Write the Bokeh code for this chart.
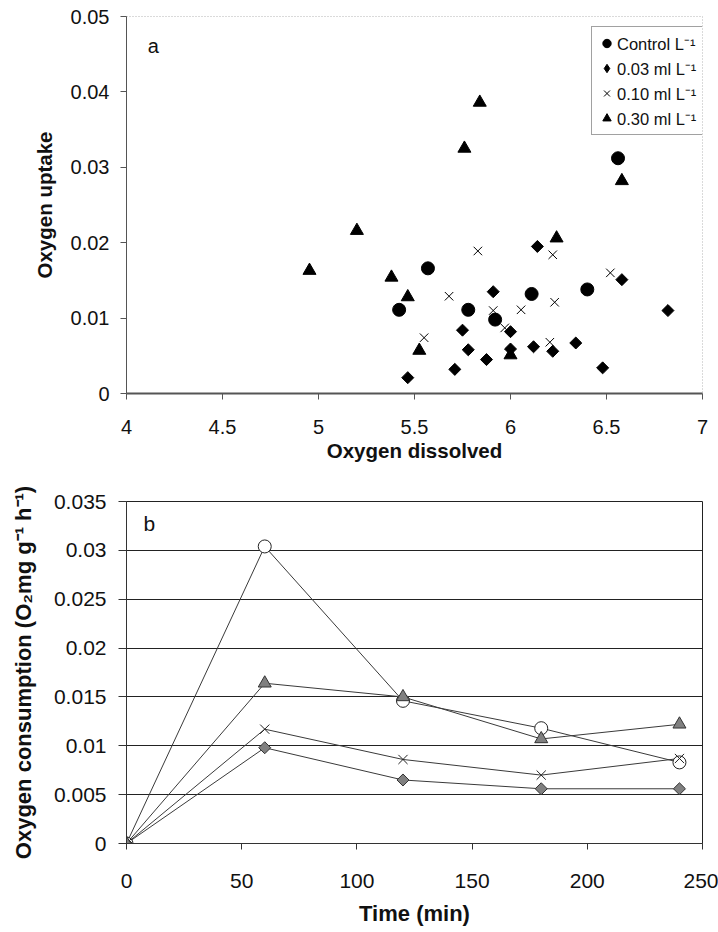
import numpy as np
from bokeh.plotting import figure
from bokeh.layouts import column
from bokeh.models import FixedTicker, Label, Range1d, CustomJSTickFormatter, Legend, LegendItem
from bokeh.embed import file_html
from bokeh.resources import INLINE

# ---------------- data: panel a (scatter) ----------------
ctrl_x = [6.56, 5.57, 5.42, 5.78, 5.92, 6.11, 6.40]
ctrl_y = [0.0312, 0.0166, 0.0111, 0.0111, 0.0098, 0.0132, 0.0138]

d03_x = [6.14, 6.58, 5.91, 6.82, 5.75, 6.00, 5.78, 6.00, 6.12, 6.22, 6.34, 5.875, 5.71, 6.48, 5.465]
d03_y = [0.0195, 0.0151, 0.0135, 0.0110, 0.0084, 0.0082, 0.0058, 0.0059, 0.0062, 0.0056, 0.0067,
         0.0045, 0.0032, 0.0034, 0.0021]

x10_x = [5.83, 6.22, 6.52, 5.68, 6.23, 5.91, 6.055, 5.97, 5.55, 6.205]
x10_y = [0.0189, 0.0184, 0.0160, 0.0129, 0.0121, 0.0110, 0.0111, 0.0087, 0.0074, 0.0068]

t30_x = [5.84, 5.76, 6.58, 6.24, 5.38, 5.465, 5.525, 6.00, 4.953, 5.20]
t30_y = [0.0386, 0.0325, 0.0282, 0.0206, 0.0154, 0.0128, 0.0057, 0.0051, 0.0163, 0.0216]

legend_labels = ["Control L\u207b\u00b9", "0.03 ml L\u207b\u00b9", "0.10 ml L\u207b\u00b9", "0.30 ml L\u207b\u00b9"]
a_xticks = [4, 4.5, 5, 5.5, 6, 6.5, 7]
a_yticks = [0, 0.01, 0.02, 0.03, 0.04, 0.05]

# ---------------- data: panel b (lines) ----------------
time_min = [0, 60, 120, 180, 240]
b_ctrl = [0, 0.0304, 0.0146, 0.0118, 0.0083]
b_003 = [0, 0.0098, 0.0065, 0.0056, 0.0056]
b_010 = [0, 0.0117, 0.0086, 0.0070, 0.0087]
b_030 = [0, 0.0164, 0.0150, 0.0107, 0.0122]
b_xticks = [0, 50, 100, 150, 200, 250]
b_yticks = [0, 0.005, 0.01, 0.015, 0.02, 0.025, 0.03, 0.035]

FONT = "Liberation Sans"
fmt_code = "return String(Number(tick.toFixed(4)));"


def style_axis(ax, ticks, size, label_size, tick_out, standoff, label_standoff, color="#333"):
    ax.ticker = FixedTicker(ticks=ticks)
    ax.formatter = CustomJSTickFormatter(code=fmt_code)
    ax.major_label_text_font = FONT
    ax.major_label_text_font_size = size
    ax.major_label_text_color = "#111"
    ax.axis_label_text_font = FONT
    ax.axis_label_text_font_size = label_size
    ax.axis_label_text_font_style = "bold"
    ax.axis_label_text_color = "#111"
    ax.major_tick_in = 0
    ax.major_tick_out = tick_out
    ax.minor_tick_in = 0
    ax.minor_tick_out = 0
    ax.major_label_standoff = standoff
    ax.axis_label_standoff = label_standoff
    ax.axis_line_color = color
    ax.major_tick_line_color = color


# ---------------- panel a ----------------
p1 = figure(width=718, height=467, x_range=Range1d(4, 7), y_range=Range1d(0, 0.05),
            output_backend="svg", toolbar_location=None,
            min_border_left=120, min_border_right=9, min_border_top=16, min_border_bottom=74,
            x_axis_label="Oxygen dissolved", y_axis_label="Oxygen uptake")
p1.xgrid.visible = False
p1.ygrid.visible = False
p1.outline_line_color = "#b5b5b5"
p1.outline_line_dash = "1 2"
style_axis(p1.xaxis[0], a_xticks, "20px", "20.5px", 6, 20, 2, color="#555")
style_axis(p1.yaxis[0], a_yticks, "20px", "20.5px", 6, 11, 12, color="#555")
p1.xaxis[0].axis_line_width = 2

r_ctrl = p1.scatter(ctrl_x, ctrl_y, marker="circle", size=13, fill_color="black", line_color="black")
r_d03 = p1.scatter(d03_x, d03_y, marker="square", angle=np.pi / 4, size=8.5, fill_color="black",
                   line_color="black")
r_x10 = p1.scatter(x10_x, x10_y, marker="x", size=12, line_color="black", line_width=1)
r_t30 = p1.scatter(t30_x, t30_y, marker="triangle", size=13, fill_color="black", line_color="black")
# legend swatch for the diamond series (the legend ignores marker rotation)
r_d03_key = p1.scatter([float("nan")], [float("nan")], marker="diamond", fill_color="black",
                       line_color="black")

lg = Legend(items=[LegendItem(label=legend_labels[0], renderers=[r_ctrl]),
                   LegendItem(label=legend_labels[1], renderers=[r_d03_key]),
                   LegendItem(label=legend_labels[2], renderers=[r_x10]),
                   LegendItem(label=legend_labels[3], renderers=[r_t30])])
lg.location = (465, 258)
lg.glyph_width = 21
lg.glyph_height = 24
lg.label_height = 24
lg.label_width = 95
lg.spacing = 1
lg.padding = 4
lg.margin = 0
lg.label_standoff = 0
lg.label_text_font = FONT
lg.label_text_font_size = "16.5px"
lg.label_text_color = "#111"
lg.border_line_color = "#444"
lg.border_line_width = 1
lg.background_fill_color = "white"
lg.background_fill_alpha = 1
p1.add_layout(lg)

p1.add_layout(Label(x=4.14, y=0.0461, text="a", text_font=FONT, text_font_size="20px",
                    text_align="center", text_baseline="middle", text_color="#111"))

# ---------------- panel b ----------------
p2 = figure(width=718, height=464, x_range=Range1d(0, 250), y_range=Range1d(0, 0.035),
            output_backend="svg", toolbar_location=None,
            min_border_left=126, min_border_right=16, min_border_top=34, min_border_bottom=88,
            x_axis_label="Time (min)",
            y_axis_label="Oxygen consumption (O\u2082mg g\u207b\u00b9 h\u207b\u00b9)")
p2.xgrid.visible = False
p2.ygrid.grid_line_color = "#222"
p2.ygrid.grid_line_width = 1
p2.outline_line_color = "#222"
p2.outline_line_width = 1
style_axis(p2.xaxis[0], b_xticks, "21px", "22px", 6, 24, 10)
style_axis(p2.yaxis[0], b_yticks, "21px", "22px", 8, 12, 15)

LINE = "#3a3a3a"
for series in (b_ctrl, b_003, b_010, b_030):
    p2.line(time_min, series, line_color=LINE, line_width=1)

p2.scatter(time_min, b_ctrl, marker="circle", size=13, fill_color="white", line_color="#222", line_width=1)
p2.scatter(time_min, b_003, marker="square", angle=np.pi / 4, size=8.5, fill_color="#808080",
           line_color="#333", line_width=1)
p2.scatter(time_min, b_010, marker="x", size=13, line_color="#222", line_width=1)
p2.scatter(time_min, b_030, marker="triangle", size=13, fill_color="#808080", line_color="#333", line_width=1)

p2.add_layout(Label(x=9.9, y=0.0327, text="b", text_font=FONT, text_font_size="21px",
                    text_align="center", text_baseline="middle", text_color="#111"))

layout = column(p1, p2, spacing=0)
open("out.html", "w").write(file_html(layout, INLINE))
